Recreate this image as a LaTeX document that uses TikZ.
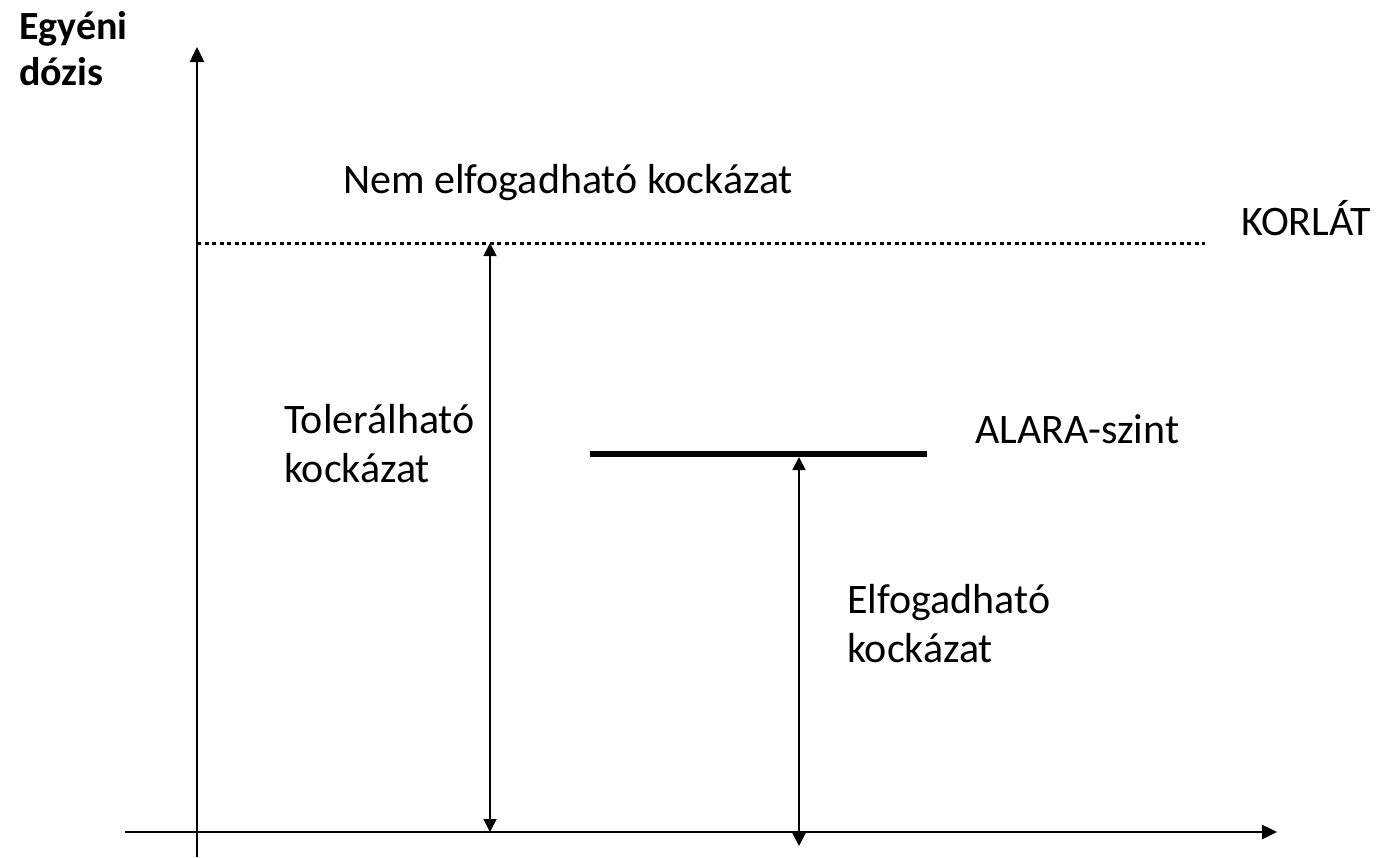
\documentclass[tikz,border=0pt]{standalone}
\usepackage{fontspec}
\setmainfont{Carlito}
\usetikzlibrary{arrows.meta}
\begin{document}
\begin{tikzpicture}[x=1pt,y=-1pt,
  lbl/.style={anchor=base west,inner sep=0pt,font=\fontsize{42}{49}\selectfont,align=left},
  axis/.style={line width=2.5pt,-{Triangle[length=15pt,width=14pt]}},
  span/.style={line width=1.8pt,{Triangle[length=13pt,width=13pt]}-{Triangle[length=13pt,width=13pt]}},
  limitline/.style={line width=3pt,dash pattern=on 4pt off 3.5pt},
  alarabar/.style={line width=6pt}]
\useasboundingbox (0,0) rectangle (1376,857);
% axes
\coordinate (yb) at (197,857);
\coordinate (yt) at (197,47);
\coordinate (xl) at (125,832);
\coordinate (xr) at (1277,832);
\draw[axis] (yb) -- (yt);
\draw[axis] (xl) -- (xr);
% limit line
\coordinate (ll) at (197,243);
\coordinate (lr) at (1205,243);
\draw[limitline] (ll) -- (lr);
% ALARA level
\coordinate (al) at (590,454);
\coordinate (ar) at (927,454);
\draw[alarabar] (al) -- (ar);
% ranges
\coordinate (tt) at (490,243);
\coordinate (tb) at (490,832);
\draw[span] (tb) -- (tt);
\coordinate (et) at (799,457);
\coordinate (eb) at (799,846);
\draw[span] (eb) -- (et);
% labels (base anchor sits on the last line)
\node[lbl,font=\fontsize{40}{46}\selectfont\bfseries] (ylab) at (19,85) {Egyéni\\dózis};
\node[lbl] (nem) at (343,193) {Nem elfogadható kockázat};
\node[lbl] (korlat) at (1241,235) {KORLÁT};
\node[lbl] (tol) at (284,482) {Tolerálható\\kockázat};
\node[lbl] (alara) at (975,443) {ALARA-szint};
\node[lbl] (elf) at (847,662) {Elfogadható\\kockázat};
\end{tikzpicture}
\end{document}
